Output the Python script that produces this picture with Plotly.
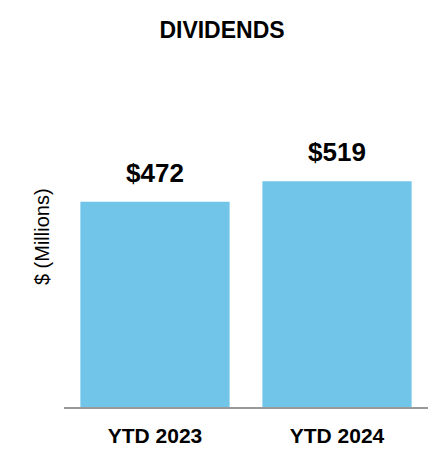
import plotly.graph_objects as go

# data
periods = ["YTD 2023", "YTD 2024"]
dividends = [472, 519]
value_labels = ["$472", "$519"]

FONT = "Liberation Sans, Arial"

fig = go.Figure()

fig.add_trace(go.Bar(
    x=periods,
    y=dividends,
    marker=dict(color="#71C5E8", line=dict(width=0)),
    hoverinfo="x+y",
    showlegend=False,
))

# value labels above the bars
for p, v, lbl in zip(periods, dividends, value_labels):
    fig.add_annotation(x=p, y=v, text="<b>" + lbl + "</b>", showarrow=False,
                       yanchor="bottom", yshift=12,
                       font=dict(size=26, color="black", family=FONT))

# y axis title placed by hand
fig.add_annotation(xref="paper", yref="paper", x=-0.06, y=0.554,
                   text="$ (Millions)", textangle=-90, showarrow=False,
                   xanchor="center", yanchor="middle",
                   font=dict(size=20, color="black", family=FONT))

# page has an 8px body margin, so margins are shifted to compensate
fig.update_layout(
    width=448, height=466,
    margin=dict(l=56, r=28, t=92, b=67),
    paper_bgcolor="white", plot_bgcolor="white",
    bargap=0.18,
    title=dict(text="<b>DIVIDENDS</b>", x=214 / 448, xanchor="center",
               y=1 - 22 / 466, yanchor="middle",
               font=dict(size=23, color="black", family=FONT)),
    font=dict(family=FONT, color="black"),
)

fig.update_xaxes(
    showline=True, linecolor="#999999", linewidth=2,
    showgrid=False, zeroline=False,
    ticks="outside", ticklen=9, tickcolor="rgba(0,0,0,0)",
    tickfont=dict(size=21, color="black", family=FONT),
    tickprefix="<b>", ticksuffix="</b>",
)
fig.update_yaxes(
    range=[0, 706], showticklabels=False, showgrid=False,
    zeroline=False, showline=False,
)

fig.write_html("out.html")
